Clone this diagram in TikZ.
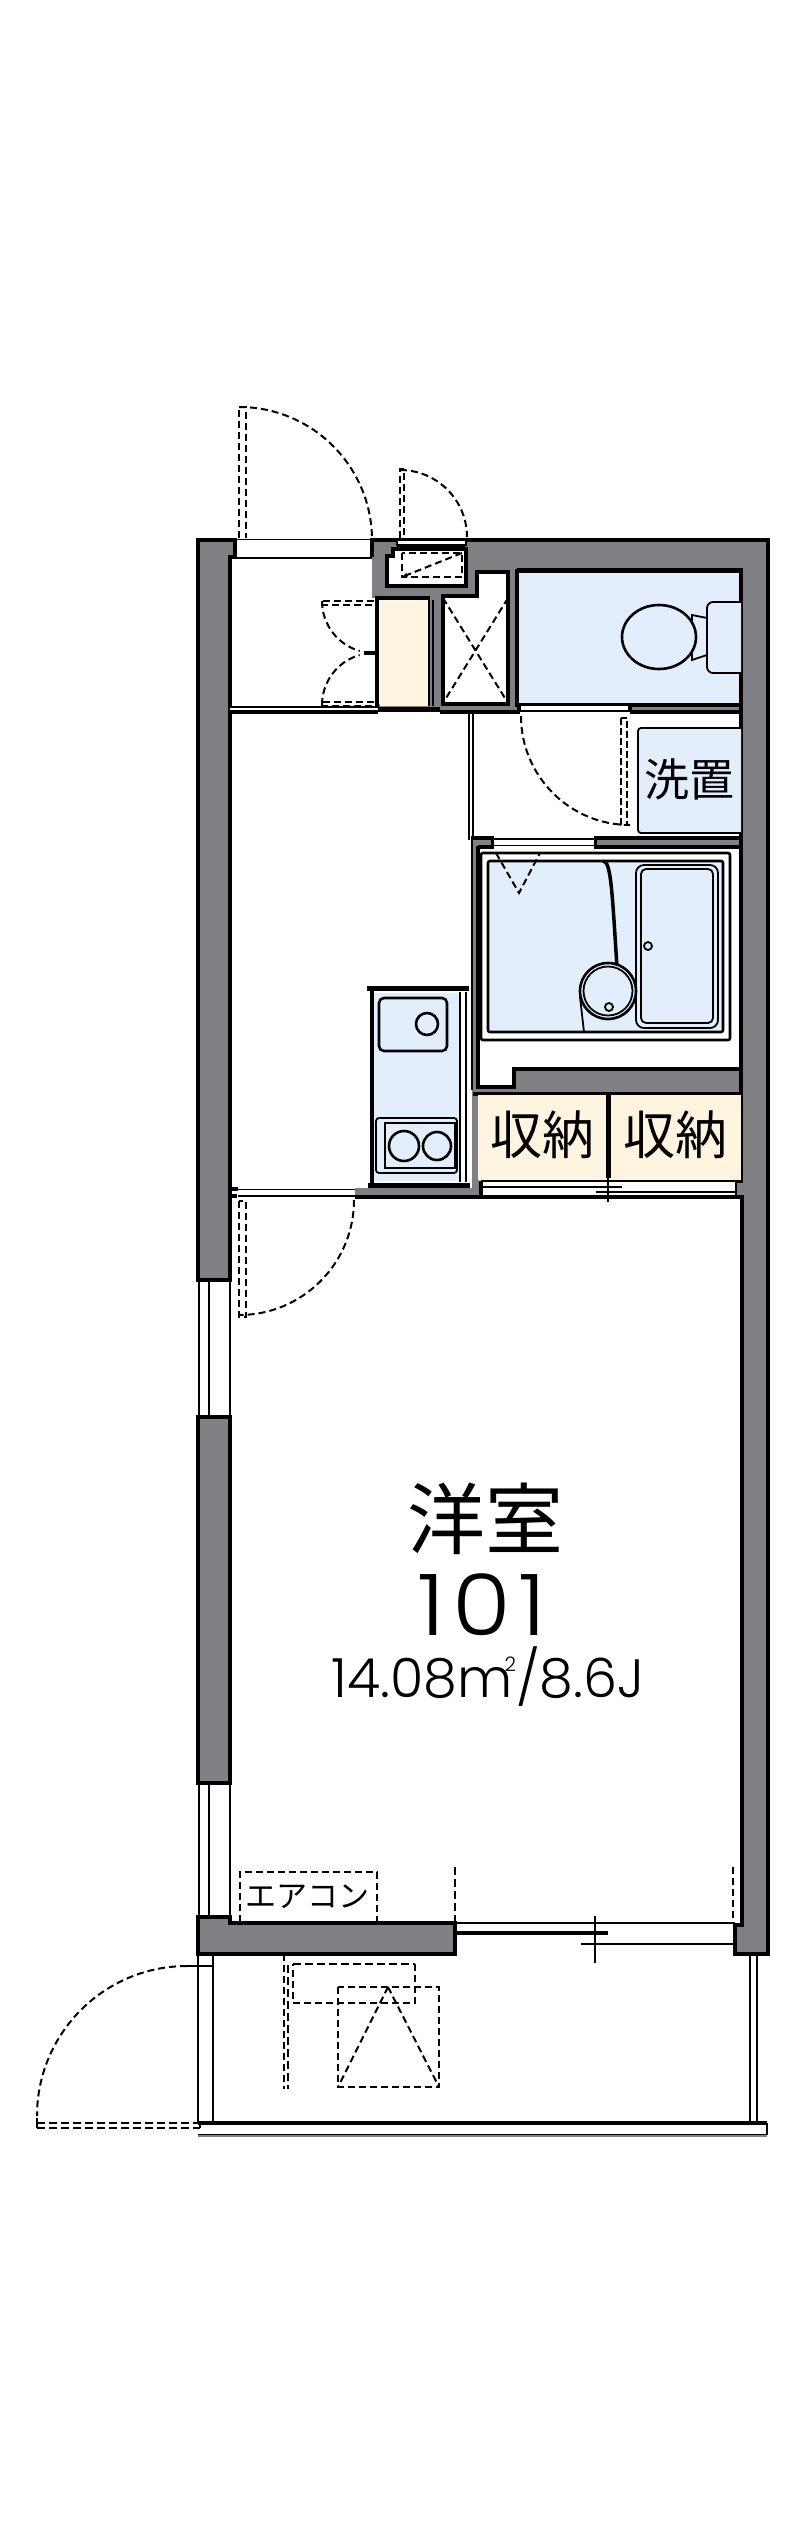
\documentclass[tikz,border=0pt]{standalone}
\usepackage{fontspec}
\newfontfamily\cjk{Noto Sans CJK JP}
\newfontfamily\numfont{Poppins Light}[FakeStretch=1.12]
\newfontfamily\areafont{Poppins Light}
\usetikzlibrary{arrows.meta}
\definecolor{wallc}{HTML}{808084}
\definecolor{bluec}{HTML}{E3EEFC}
\definecolor{creamc}{HTML}{FFF4E0}
\tikzset{
 wall/.style={black,line width=3.6pt,line join=miter},
 thk/.style={black,line width=5pt},
 tn/.style={black,line width=1.8pt},
 med/.style={black,line width=2.6pt},
 dsh/.style={black,line width=2pt,dash pattern=on 7pt off 4pt},
 dshb/.style={black,line width=2.6pt,dash pattern=on 8pt off 4pt},
 lbl/.style={inner sep=0pt,outer sep=0pt,anchor=center},
}
\begin{document}
\begin{tikzpicture}[x=1pt,y=-1pt]
\useasboundingbox[fill=white] (0,0) rectangle (800,2541);
% ---- gray fills
\fill[wallc] (198,540) rectangle (230,1280);
\fill[wallc] (230,540) rectangle (235,557);
\fill[wallc] (198,1417) rectangle (230,1783);
\fill[wallc] (372,540) rectangle (477,598);
\fill[wallc] (465,540) rectangle (768,570);
\fill[wallc] (741,540) rectangle (768,1954);
\fill[wallc] (735,1925) rectangle (742,1954);
\fill[wallc] (735,1181) rectangle (742,1197);
\fill[wallc] (508,570) rectangle (517,707);
\fill[wallc] (430,598) rectangle (443,712);
\fill[wallc] (378,704) rectangle (519,712);
\fill[wallc] (630,705) rectangle (741,711);
\fill[wallc] (471,838) rectangle (741,846);
\fill[wallc] (472,838) rectangle (479,1197);
\fill[wallc] (514,1068) rectangle (741,1094);
\fill[wallc] (472,1086) rectangle (514,1094);
\fill[wallc] (355,1188) rectangle (481,1197);
\fill[wallc] (198,1917) rectangle (230,1954);
\fill[wallc] (230,1923) rectangle (455,1954);
% ---- outer walls
\draw[wall] (198,1280) -- (198,540) -- (235,540) -- (235,557) -- (230,557) -- (230,1280) -- cycle;
\draw[wall] (198,1417) rectangle (230,1783);
\draw[wall] (372,540) -- (768,540) -- (768,1954) -- (735,1954) -- (735,1925) -- (742,1925) -- (742,1197) -- (735,1197) -- (735,1181) -- (741,1181) -- (741,570) -- (517,570);
\draw[wall] (198,1954) -- (198,1917) -- (230,1917) -- (230,1923) -- (455,1923) -- (455,1954) -- cycle;
% left windows
\draw[tn] (199,1280) -- (199,1417) (209,1280) -- (209,1417);
\draw[tn] (230,1280) -- (230,1417);
\draw[tn] (199,1783) -- (199,1917) (230,1783) -- (230,1917);
\draw[med] (209,1783) -- (209,1917);
% entry door opening
\draw[tn] (235,539.5) -- (372,539.5);
\draw[med] (235,558) -- (372,558);
\draw[line width=4pt] (372,538) -- (372,557);
\draw[dsh] (239,538) -- (239,407) -- (246,407) -- (246,538);
\draw[dsh] (239,407) arc[start angle=-90,end angle=0,radius=133];
% meter box
\fill[white] (397,541) rectangle (465,546);
\draw[tn] (397,540) -- (465,540);
\draw[wall] (397,546) -- (465,546);
\draw[tn] (397,538) -- (397,546) (466,538) -- (466,546);
\draw[wall,fill=white] (393,549) -- (466,549) -- (466,586) -- (387,586) -- (387,556) -- (393,556) -- cycle;
\draw[dsh] (402,553) rectangle (462,577);
\draw[dsh,-{Stealth[length=6pt,width=5pt]}] (462,553) -- (402,577);
\draw[dsh] (400,538) -- (400,469) -- (404,469) -- (404,538);
\draw[dsh] (400,470) arc[start angle=-90,end angle=0,radius=67];
% shaft
\draw[wall,fill=white] (477,585) -- (477,572) -- (508,572) -- (508,704) -- (443,704) -- (443,596) -- (477,596) -- cycle;
\draw[dsh] (443,598) -- (508,703) (508,598) -- (443,703);
% closet
\draw[draw=none,fill=creamc] (380,600) rectangle (428,706);
\draw[wall] (377,596) -- (377,712);
\draw[wall] (377,598) -- (430,598);
\draw[tn] (429,600) -- (429,706);
\draw[tn] (433,600) -- (433,706);
\draw[thk] (377,709.5) -- (440,709.5);
\draw[wall] (440,712) -- (520,712);
% toilet
\draw[wall,fill=bluec] (517,571) rectangle (741,705);
\draw[tn,fill=bluec,rounded corners=6pt] (741,602) -- (707,602) -- (707,673) -- (741,673);
\draw[tn] (707,618) -- (692,615) -- (692,660) -- (707,655);
\draw[med,fill=bluec] (659,637) ellipse[x radius=37,y radius=32];
\fill[white] (230,707.5) rectangle (378,711);
\draw[tn] (230,707) -- (378,707);
\draw[wall] (230,712) -- (378,712);
% shoe box doors
\draw[dsh] (374,601) -- (322,601) -- (322,605) -- (374,605);
\draw[dsh] (322,601) arc[start angle=180,end angle=106,radius=52];
\draw[dsh] (374,702) -- (322,702) -- (322,706) -- (374,706);
\draw[dsh] (322,705) arc[start angle=180,end angle=254,radius=52];
\draw[wall] (364,653) -- (375,653);
% opening to washroom
\fill[white] (521,705) rectangle (628,711);
\draw[tn] (521,705) -- (628,705) (521,711) -- (628,711);
\draw[wall] (630,712) -- (741,712) (630,705) -- (741,705);
\draw[wall] (630,704) -- (630,712);
\draw[wall] (519,704) -- (519,712);
% washroom
\draw[tn] (469,712) -- (469,840) (473,712) -- (473,840);
\draw[tn,rounded corners=3pt,fill=bluec] (741,728) -- (638,728) -- (638,833) -- (741,833);
\draw[med,dash pattern=on 7pt off 3pt] (621,718) -- (621,825) -- (627,825) -- (627,718) -- cycle;
\draw[dsh] (521,716) arc[start angle=180,end angle=90,radius=109];
\node[lbl] (senchi) at (689,779) {\cjk\fontsize{45}{45}\selectfont 洗置};
% wall washroom / bath
\fill[white] (494,840) rectangle (594,845);
\draw[tn] (494,839) -- (594,839) (494,845.5) -- (594,845.5);
\draw[wall] (471,838) -- (494,838) (594,838) -- (741,838);
\draw[wall] (478,847) -- (494,847) (594,847) -- (741,847);
\draw[line width=3pt] (492.5,837) -- (492.5,848) (595.5,837) -- (595.5,848);
% bath
\draw[tn] (472,838) -- (472,1090);
\draw[wall] (478,846) -- (478,1087) -- (514,1087) -- (514,1069) -- (741,1069);
\draw[wall] (473,1094) -- (741,1094);
\draw[med,rounded corners=2pt,fill=white] (481,853) rectangle (730,1040);
\draw[med,rounded corners=2pt,fill=bluec] (488,861) rectangle (723,1032);
\draw[tn,rounded corners=8pt] (636,865) rectangle (718,1028);
\draw[tn,rounded corners=5pt] (641,869) rectangle (713,1023);
\draw[tn] (648,946) circle[radius=4];
\draw[line width=3.5pt] (603,861) .. controls (611,861) and (612,890) .. (617,967);
\draw[tn] (580,997) -- (584,1032);
\draw[med,fill=bluec] (608,991) circle[radius=28];
\draw[tn] (608,991) circle[radius=24.5];
\draw[tn] (609,1007) circle[radius=4];
\draw[dsh] (496,853) -- (519,893) -- (540,853);
% storage
\fill[creamc] (478,1095) rectangle (741,1180);
\draw[line width=5pt] (608,1095) -- (608,1178);
\node[lbl] (sn1) at (542,1135) {\cjk\fontsize{52}{52}\selectfont 収納};
\node[lbl] (sn2) at (675,1135) {\cjk\fontsize{52}{52}\selectfont 収納};
\fill[white] (482,1182) rectangle (735,1196);
\draw[tn] (481,1181) -- (735,1181);
\draw[med] (481,1187) -- (622,1187);
\draw[tn] (596,1192) -- (735,1192);
\draw[wall] (481,1197) -- (735,1197);
\draw[wall] (481,1181) -- (481,1197);
\draw[tn] (608,1177) -- (608,1202);
% kitchen
\fill[bluec] (374,993) rectangle (460,1181);
\draw[thk] (367,988) -- (469,988);
\draw[wall] (372,986) -- (372,1188);
\draw[tn] (460,992) -- (460,1182) (466,992) -- (466,1182);
\draw[line width=5pt] (368,1185) -- (470,1185);
\draw[med,rounded corners=5pt] (379,998) rectangle (447,1051);
\draw[med] (427,1024) circle[radius=11];
\draw[tn,rounded corners=3pt] (376,1118) rectangle (457,1173);
\draw[med] (385,1123) rectangle (455,1168);
\draw[med] (404,1146) circle[radius=15];
\draw[med] (437,1146) circle[radius=14];
% kitchen / room partition
\draw[tn] (238,1189.5) -- (355,1189.5);
\draw[tn] (238,1196) -- (355,1196);
\draw[wall] (230,1189) -- (238,1189) (232,1196) -- (237,1196);
\draw[wall] (355,1197) -- (481,1197);
\draw[dsh] (239,1201) -- (239,1317) -- (246,1317) -- (246,1201) -- cycle;
\draw[dsh] (354,1200) arc[start angle=0,end angle=90,radius=115];
% south window
\draw[tn] (455,1923) -- (735,1923);
\draw[wall] (455,1933) -- (608,1933);
\draw[med] (581,1944) -- (735,1944);
\draw[tn] (595,1916) -- (595,1963);
\draw[dshb] (455,1867) -- (455,1922);
\draw[dsh] (733,1867) -- (733,1922);
% aircon
\draw[dsh] (240,1922) -- (240,1872) -- (377,1872) -- (377,1922);
\node[lbl] (ac) at (307,1897) {\cjk\fontsize{31}{31}\selectfont エアコン};
% balcony
\draw[tn] (198,1954) -- (198,2123) (213,1954) -- (213,2123);
\draw[tn] (750,1954) -- (750,2123) (757,1954) -- (757,2123);
\draw[wall] (198,2123) -- (767,2123);
\draw[tn] (198,2135) -- (767,2135) (767,2123) -- (767,2135);
\draw[line width=2pt, wallc] (198,2135.5) -- (767,2135.5);
\draw[tn] (187,1966) -- (213,1966);
\draw[dsh] (187,1966) arc[start angle=-90,end angle=-180,radius=150];
\draw[dshb] (37,2123) -- (200,2123) (37,2128) -- (200,2128) ;
\draw[tn] (37,2118) -- (37,2128) (200,2123) -- (200,2128);
\draw[dsh] (284,1954) -- (284,2089);
\draw[dshb] (288,1965) -- (288,2089);
\draw[dshb] (293,1964) -- (415,1964);
\draw[dsh] (415,1964) -- (415,2003) -- (293,2003) -- (293,1964);
\draw[dsh] (338,1987) rectangle (439,2087);
\draw[dsh] (388,1987) -- (338,2087) (388,1987) -- (439,2087);
% texts
\node[lbl] (room) at (485,1519) {\cjk\fontsize{78}{78}\selectfont 洋室};
\node[lbl] (num) at (482,1605) {\numfont\fontsize{85}{85}\selectfont 1\hspace{7pt}0\hspace{7pt}1};
\node[lbl] (area) at (488,1677) {\areafont\fontsize{54}{54}\selectfont 14.08m\hspace{-8pt}\raisebox{26pt}{\fontsize{20}{20}\selectfont 2}/8.6J};
\end{tikzpicture}
\end{document}
